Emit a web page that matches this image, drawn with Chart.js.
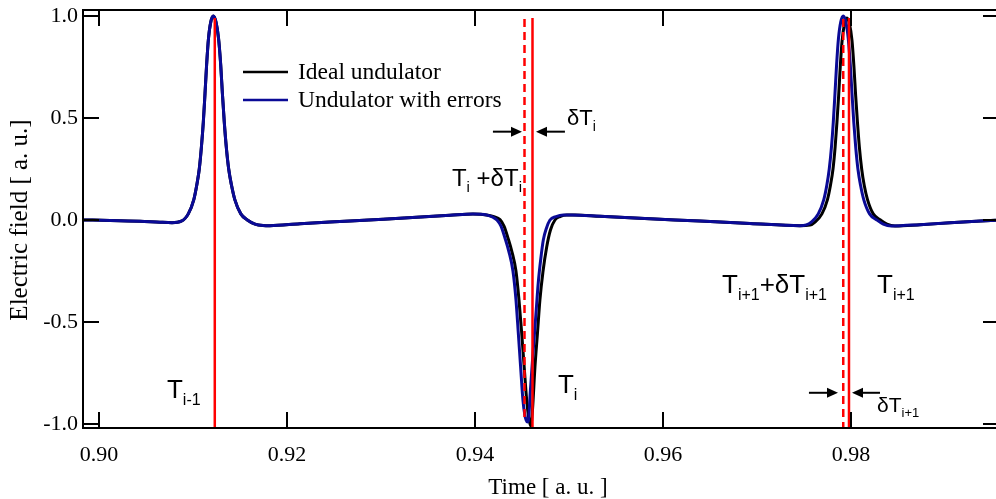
<!DOCTYPE html>
<html>
<head>
<meta charset="utf-8">
<script src="https://cdn.jsdelivr.net/npm/chart.js@4.4.1/dist/chart.umd.min.js"></script>
<style>
  html, body { margin: 0; padding: 0; background: #fff; }
  #wrap { width: 996px; height: 499px; }
</style>
</head>
<body>
<div id="wrap"><canvas id="chart"></canvas></div>
<script>
// axis ranges and ticks (time and field in a. u.)
const xMin = 0.8983, xMax = 0.99543;
const yMin = -1.0196, yMax = 1.0294;
const xTicks = [0.90, 0.92, 0.94, 0.96, 0.98];
const yTicks = [-1.0, -0.5, 0.0, 0.5, 1.0];

// parts both traces share: first pulse, the flat stretch after the dip, the tail
const pulseOneTime = [0.89840, 0.90117, 0.90436, 0.90649, 0.90777, 0.90876, 0.90950,
  0.91009, 0.91040, 0.91067, 0.91090, 0.91110, 0.91128, 0.91145, 0.91165, 0.91189, 0.91216,
  0.91245, 0.91272, 0.91295, 0.91313, 0.91333, 0.91354, 0.91380, 0.91410, 0.91445, 0.91509,
  0.91578, 0.91660, 0.91745, 0.91819, 0.92138, 0.92670, 0.93202, 0.93734, 0.93979];
const pulseOneField = [0.000, -0.002, -0.006, -0.011, -0.013, -0.006, 0.030,
  0.100, 0.170, 0.250, 0.360, 0.480, 0.620, 0.760, 0.890, 0.970, 1.000,
  0.970, 0.890, 0.760, 0.620, 0.480, 0.360, 0.250, 0.170, 0.100, 0.030,
  0.000, -0.020, -0.027, -0.028, -0.018, -0.005, 0.009, 0.023, 0.029];
const midTime = [0.95330, 0.95862, 0.96394, 0.96926, 0.97457];
const midField = [0.018, 0.006, -0.005, -0.017, -0.028];
const tailTime = [0.98734, 0.99053, 0.99543];
const tailField = [-0.023, -0.014, -0.001];

// ideal undulator: second (negative) and third pulse
const idealDipTime = [0.94124, 0.94202, 0.94266, 0.94309, 0.94351, 0.94394, 0.94436, 0.94468,
  0.94497, 0.94523, 0.94550, 0.94572, 0.94593, 0.94612, 0.94638, 0.94665, 0.94691, 0.94723,
  0.94763, 0.94803, 0.94851, 0.94904, 0.94976, 0.95064];
const idealDipField = [0.025, 0.016, 0.002, -0.030, -0.088, -0.157, -0.250, -0.390,
  -0.554, -0.716, -0.882, -0.971, -1.010, -0.930, -0.721, -0.554, -0.392, -0.255,
  -0.132, -0.049, 0.000, 0.017, 0.025, 0.025];
const idealPeakTime = [0.97564, 0.97617, 0.97691, 0.97750, 0.97782, 0.97809, 0.97832, 0.97851,
  0.97869, 0.97886, 0.97906, 0.97931, 0.97957, 0.97985, 0.98011, 0.98032, 0.98050, 0.98069,
  0.98089, 0.98114, 0.98141, 0.98176, 0.98237, 0.98315, 0.98383, 0.98468];
const idealPeakField = [-0.025, -0.010, 0.030, 0.100, 0.170, 0.250, 0.360, 0.480,
  0.610, 0.750, 0.880, 0.960, 0.990, 0.960, 0.880, 0.750, 0.610, 0.480,
  0.360, 0.250, 0.170, 0.100, 0.030, 0.000, -0.020, -0.029];

// undulator with errors: second and third pulse
const errDipTime = [0.94124, 0.94191, 0.94234, 0.94277, 0.94319, 0.94362, 0.94404, 0.94436,
  0.94461, 0.94485, 0.94510, 0.94530, 0.94545, 0.94556, 0.94568, 0.94590, 0.94620, 0.94647,
  0.94673, 0.94700, 0.94727, 0.94761, 0.94798, 0.94862, 0.94939, 0.95032];
const errDipField = [0.025, 0.014, 0.000, -0.030, -0.088, -0.157, -0.250, -0.390,
  -0.554, -0.716, -0.882, -0.955, -0.982, -0.990, -0.984, -0.833, -0.637, -0.471,
  -0.309, -0.191, -0.098, -0.039, 0.000, 0.017, 0.025, 0.025];
const errPeakTime = [0.97525, 0.97578, 0.97652, 0.97711, 0.97743, 0.97769, 0.97793, 0.97812,
  0.97830, 0.97847, 0.97867, 0.97891, 0.97918, 0.97946, 0.97971, 0.97993, 0.98011, 0.98030,
  0.98050, 0.98074, 0.98102, 0.98136, 0.98198, 0.98276, 0.98344, 0.98429];
const errPeakField = [-0.024, -0.010, 0.030, 0.100, 0.170, 0.250, 0.360, 0.480,
  0.620, 0.760, 0.890, 0.970, 1.000, 0.970, 0.890, 0.760, 0.620, 0.480,
  0.360, 0.250, 0.170, 0.100, 0.030, 0.000, -0.020, -0.029];

// red marker lines: T(i-1), T(i), T(i)+dT(i), T(i+1), T(i+1)+dT(i+1)
const markerTime = [0.91232, 0.94612, 0.94527, 0.97979, 0.97918];
const markerTop = [0.99, 0.99, 0.985, 0.99, 0.985];
const markerBottom = [yMin, yMin, -0.98, yMin, yMin];
const markerDashed = [false, false, true, false, true];

// text labels, anchored at the left end of their baseline
const notes = [
  { t: 0.90723, v: -0.873, size: 26, parts: [["T", 0], ["i-1", 1]] },
  { t: 0.94883, v: -0.848, size: 26, parts: [["T", 0], ["i", 1]] },
  { t: 0.94979, v: 0.466, size: 22, parts: [["δT", 0], ["i", 1]] },
  { t: 0.93755, v: 0.167, size: 24, parts: [["T", 0], ["i", 1], [" +δT", 0], ["i", 1]] },
  { t: 0.96628, v: -0.358, size: 26, parts: [["T", 0], ["i+1", 1], ["+δT", 0], ["i+1", 1]] },
  { t: 0.98277, v: -0.358, size: 26, parts: [["T", 0], ["i+1", 1]] },
  { t: 0.98277, v: -0.941, size: 21, parts: [["δT", 0], ["i+1", 1]] }
];
const arrows = [
  { from: [0.94191, 0.433], to: [0.94500, 0.433] },
  { from: [0.94957, 0.433], to: [0.94649, 0.433] },
  { from: [0.97553, -0.847], to: [0.97862, -0.847] },
  { from: [0.98309, -0.847], to: [0.98011, -0.847] }
];

const idealTime = [...pulseOneTime, ...idealDipTime, ...midTime, ...idealPeakTime, ...tailTime];
const idealField = [...pulseOneField, ...idealDipField, ...midField, ...idealPeakField, ...tailField];
const errTime = [...pulseOneTime, ...errDipTime, ...midTime, ...errPeakTime, ...tailTime];
const errField = [...pulseOneField, ...errDipField, ...midField, ...errPeakField, ...tailField];

const SERIF = '"Liberation Serif", "Times New Roman", serif';
const SANS = '"Liberation Sans", Arial, sans-serif';

function drawParts(ctx, x, y, parts, size) {
    let cx = x;
    const subSize = Math.round(size * 0.62);
    parts.forEach(([text, sub]) => {
        ctx.font = (sub ? subSize : size) + "px " + SANS;
        ctx.fillText(text, cx, sub ? y + size * 0.26 : y);
        cx += ctx.measureText(text).width;
    });
}

const decorations = {
    id: "decorations",
    afterDatasetsDraw(chart) {
        const { ctx, chartArea: a, scales: { x, y } } = chart;
        ctx.save();
        ctx.strokeStyle = "#ff0000";
        ctx.lineWidth = 2.5;
        markerTime.forEach((t, i) => {
            const px = x.getPixelForValue(t);
            ctx.setLineDash(markerDashed[i] ? [8, 5] : []);
            ctx.beginPath();
            ctx.moveTo(px, y.getPixelForValue(markerTop[i]));
            ctx.lineTo(px, Math.min(y.getPixelForValue(markerBottom[i]), a.bottom));
            ctx.stroke();
        });
        ctx.setLineDash([]);

        // frame with inward ticks
        ctx.strokeStyle = "#000";
        ctx.lineWidth = 2;
        ctx.beginPath();
        ctx.moveTo(a.right + 2, a.top); ctx.lineTo(a.left, a.top);
        ctx.lineTo(a.left, a.bottom); ctx.lineTo(a.right + 2, a.bottom);
        xTicks.forEach(t => {
            const px = Math.round(x.getPixelForValue(t));
            ctx.moveTo(px, a.top); ctx.lineTo(px, a.top + 16);
            ctx.moveTo(px, a.bottom); ctx.lineTo(px, a.bottom - 16);
        });
        yTicks.forEach(v => {
            const py = Math.round(y.getPixelForValue(v));
            ctx.moveTo(a.left, py); ctx.lineTo(a.left + 16, py);
            ctx.moveTo(a.right, py); ctx.lineTo(a.right - 13, py);
        });
        ctx.stroke();

        // arrows
        ctx.fillStyle = "#000";
        arrows.forEach(({ from, to }) => {
            const x0 = x.getPixelForValue(from[0]), y0 = y.getPixelForValue(from[1]);
            const x1 = x.getPixelForValue(to[0]), y1 = y.getPixelForValue(to[1]);
            const dir = Math.sign(x1 - x0);
            ctx.beginPath();
            ctx.moveTo(x0, y0); ctx.lineTo(x1 - dir * 9, y1);
            ctx.stroke();
            ctx.beginPath();
            ctx.moveTo(x1, y1);
            ctx.lineTo(x1 - dir * 11, y1 - 5);
            ctx.lineTo(x1 - dir * 11, y1 + 5);
            ctx.closePath();
            ctx.fill();
        });

        // labels
        ctx.textBaseline = "alphabetic";
        ctx.textAlign = "left";
        notes.forEach(n => drawParts(ctx, x.getPixelForValue(n.t), y.getPixelForValue(n.v), n.parts, n.size));

        // legend
        ctx.font = "23.5px " + SERIF;
        ctx.textBaseline = "middle";
        chart.data.datasets.forEach((ds, i) => {
            const ly = 72 + i * 28;
            ctx.strokeStyle = ds.borderColor;
            ctx.lineWidth = 2.5;
            ctx.beginPath();
            ctx.moveTo(243, ly); ctx.lineTo(288, ly);
            ctx.stroke();
            ctx.fillText(ds.label, 298, ly + 1);
        });

        // axis titles
        ctx.textAlign = "center";
        ctx.font = "23px " + SERIF;
        ctx.fillText("Time [ a. u. ]", 548, 488);
        ctx.translate(20, 220);
        ctx.rotate(-Math.PI / 2);
        ctx.font = "25px " + SERIF;
        ctx.fillText("Electric field [ a. u.]", 0, 0);
        ctx.restore();
    }
};

const ctx = document.getElementById("chart");
new Chart(ctx, {
    type: "line",
    data: {
        datasets: [{
            label: "Ideal undulator",
            data: idealTime.map((t, i) => ({ x: t, y: idealField[i] })),
            borderColor: "#000000",
            borderWidth: 3,
            pointRadius: 0,
            cubicInterpolationMode: "monotone",
            order: 2
        },
        {
            label: "Undulator with errors",
            data: errTime.map((t, i) => ({ x: t, y: errField[i] })),
            borderColor: "#0a0a96",
            borderWidth: 3,
            pointRadius: 0,
            cubicInterpolationMode: "monotone",
            order: 1
        }]
    },
    options: {
        responsive: true,
        maintainAspectRatio: false,
        devicePixelRatio: 1,
        animation: false,
        layout: { padding: { top: 10, right: 0, bottom: 0, left: 0 } },
        scales: {
            x: {
                type: "linear",
                min: xMin,
                max: xMax,
                afterFit: (scale) => {
                    scale.height = 71;
                    scale.paddingLeft = 0;
                    scale.paddingRight = 0;
                },
                afterBuildTicks: (scale) => { scale.ticks = xTicks.map(v => ({ value: v })); },
                grid: { display: false, drawTicks: false },
                border: { display: false },
                ticks: {
                    autoSkip: false,
                    maxRotation: 0,
                    padding: 14,
                    color: "#000",
                    font: { family: SERIF, size: 22 },
                    callback: (value) => value.toFixed(2)
                }
            },
            y: {
                min: yMin,
                max: yMax,
                afterFit: (scale) => {
                    scale.width = 83;
                    scale.paddingTop = 0;
                    scale.paddingBottom = 0;
                },
                afterBuildTicks: (scale) => { scale.ticks = yTicks.map(v => ({ value: v })); },
                grid: { display: false, drawTicks: false },
                border: { display: false },
                ticks: {
                    autoSkip: false,
                    padding: 5,
                    color: "#000",
                    font: { family: SERIF, size: 22 },
                    callback: (value) => value.toFixed(1)
                }
            }
        },
        plugins: {
            legend: { display: false },
            tooltip: { enabled: false }
        }
    },
    plugins: [decorations]
});
</script>
</body>
</html>
